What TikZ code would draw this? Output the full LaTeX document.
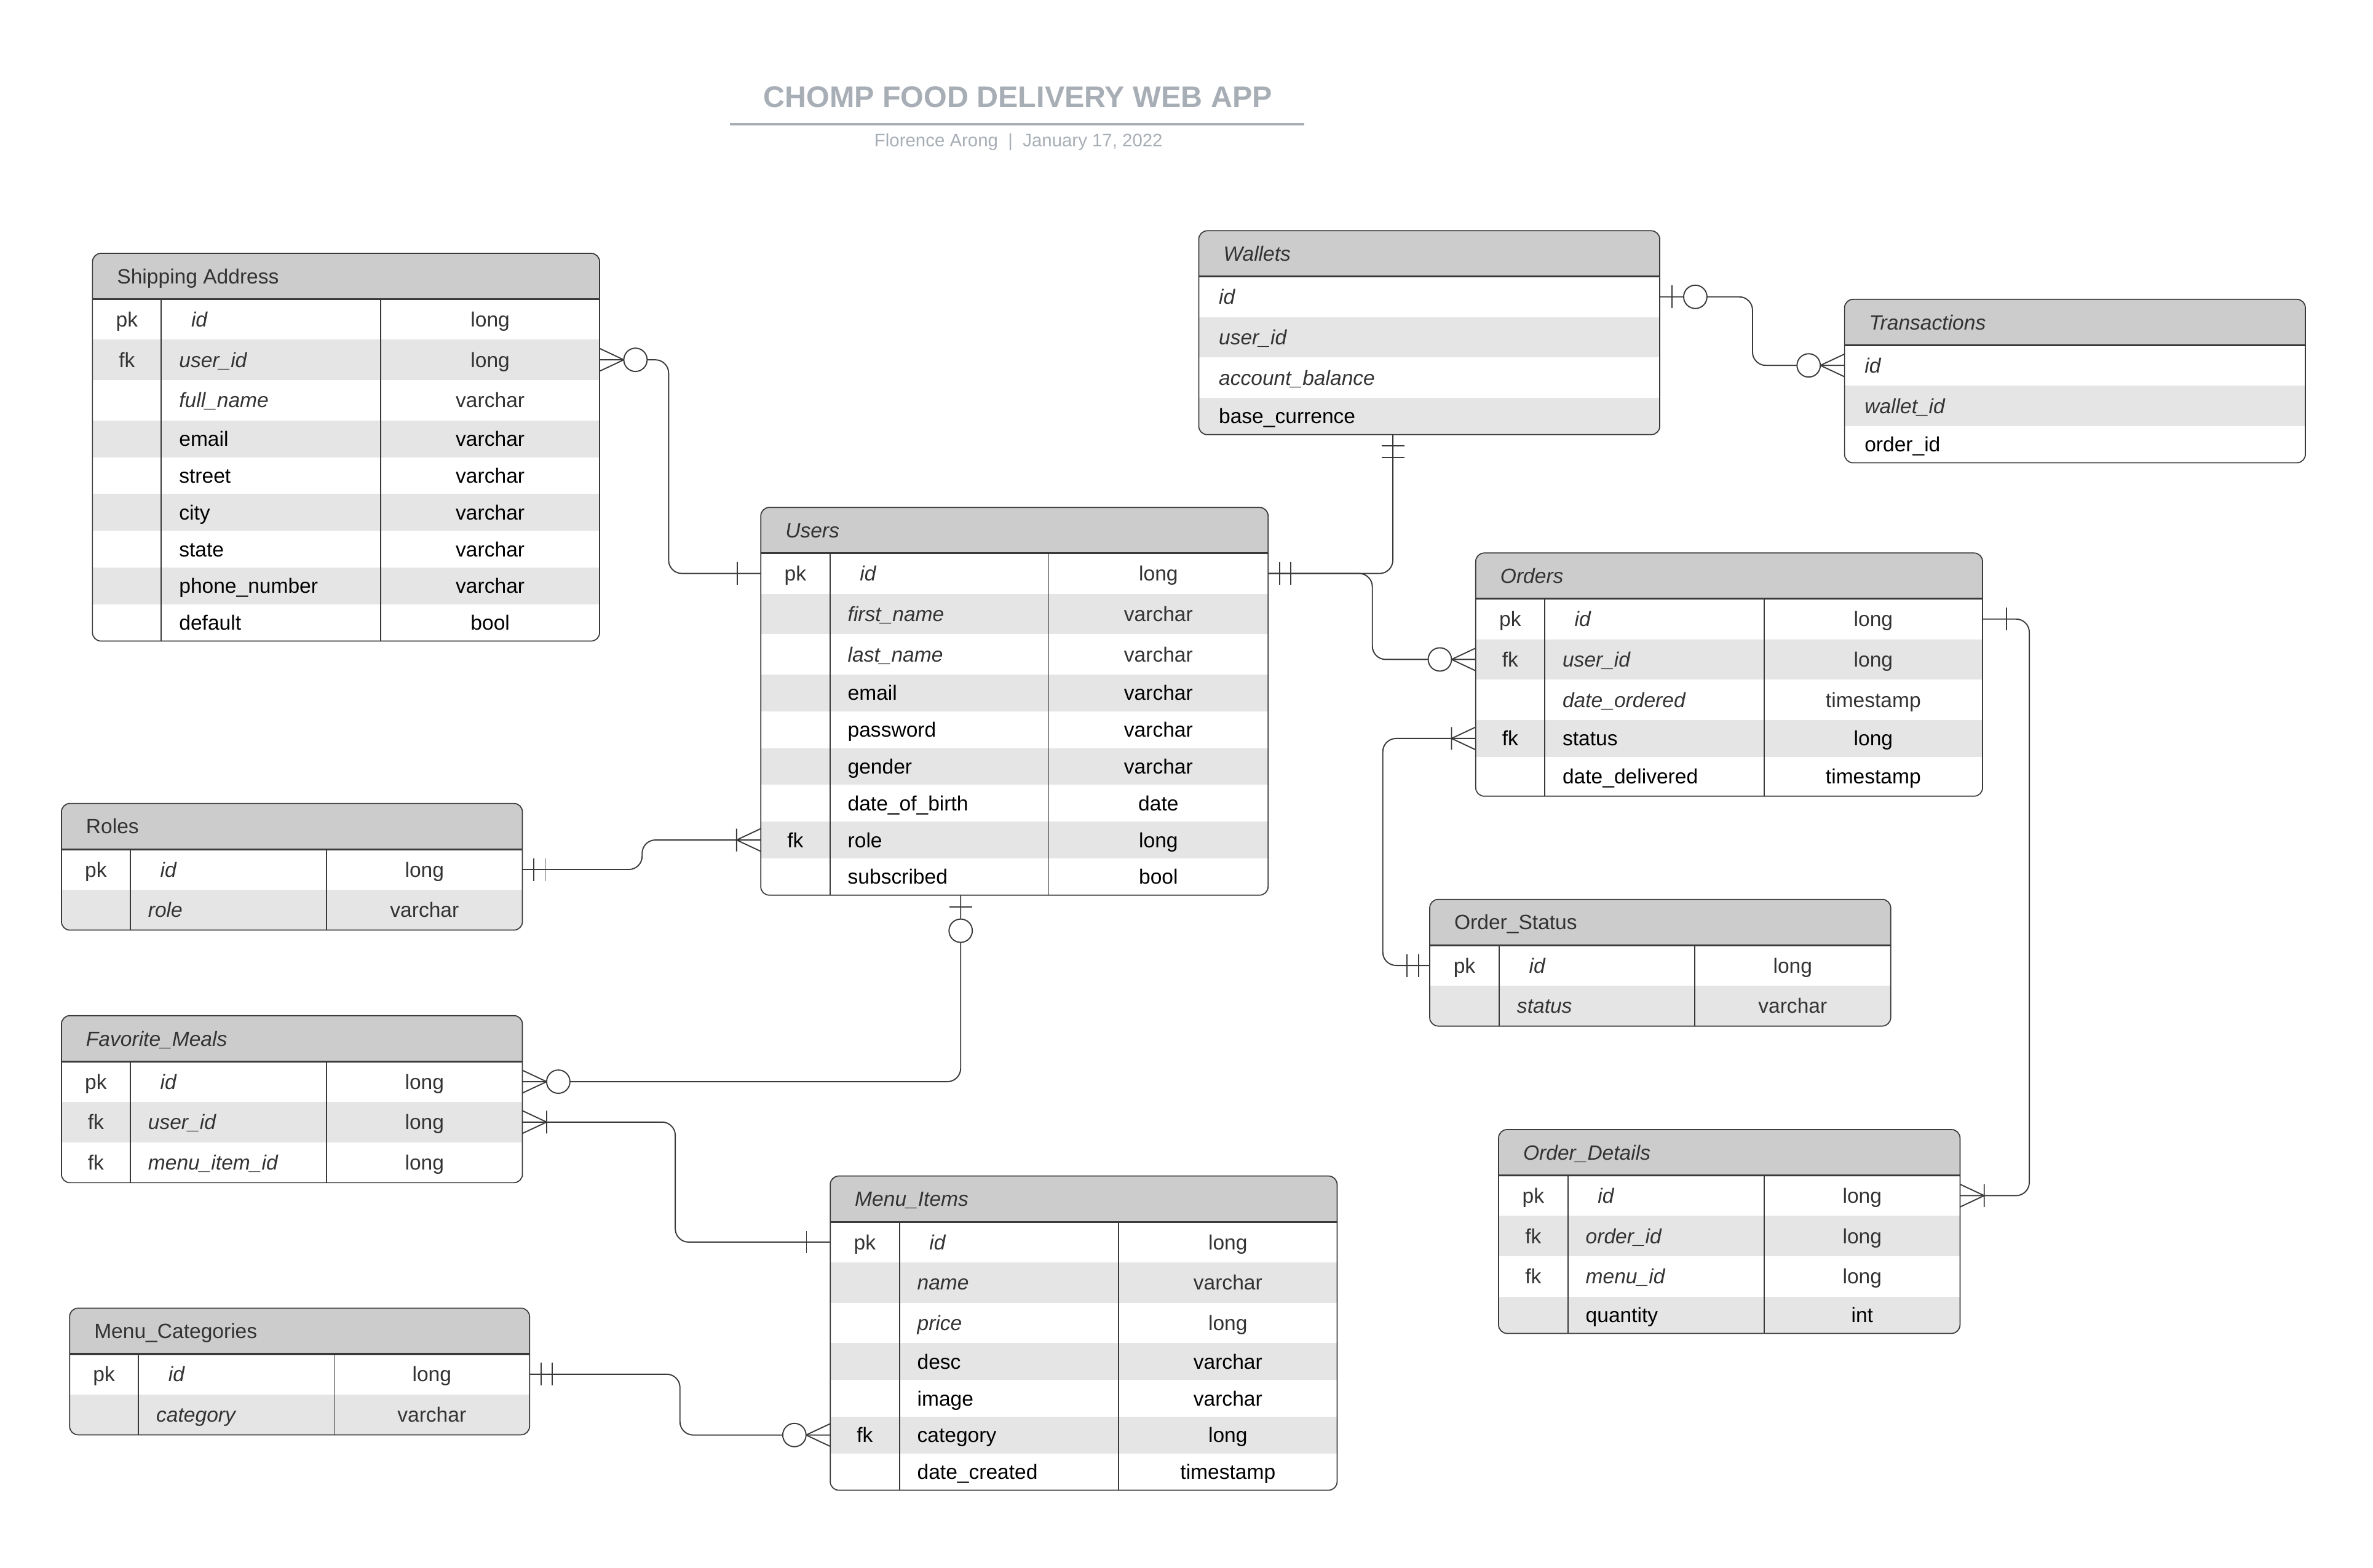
\documentclass[tikz,border=0pt]{standalone}
\usepackage{fontspec}
\setmainfont{Liberation Sans}
\usepackage{tikz}
\usetikzlibrary{calc}
\definecolor{headfill}{HTML}{CCCCCC}
\definecolor{rowgray}{HTML}{E5E5E5}
\definecolor{lineink}{HTML}{3A3A3A}
\definecolor{ink}{HTML}{333333}
\definecolor{titlegray}{HTML}{A8AEB6}
\newcommand{\tabfont}{\fontsize{9.7}{11.6}\selectfont}
\tikzset{
  tabhead/.style={fill=headfill,inner sep=0pt,outer sep=0pt,minimum height=7.575mm},
  rowbox/.style={inner sep=0pt,outer sep=0pt},
  tabtitle/.style={font=\tabfont,text=ink,inner sep=0pt},
  cell/.style={font=\tabfont,inner sep=0pt},
  tabedge/.style={draw=lineink,line width=0.5pt},
  headline/.style={draw=lineink,line width=0.9pt},
  conn/.style={draw=lineink,line width=0.55pt},
  link/.style={conn,rounded corners=2.2mm},
  pics/manyzero/.style={code={
    \draw[conn] (0,7.5) -- (16,0) -- (0,-7.5);
    \draw[conn,fill=white] (23.7,0) circle (7.7);}},
  pics/manyone/.style={code={
    \draw[conn] (0,7.5) -- (16,0) -- (0,-7.5) (16,7.5) -- (16,-7.5);}},
  pics/onlyone/.style={code={
    \draw[conn] (7.5,7.5) -- (7.5,-7.5) (15,7.5) -- (15,-7.5);}},
  pics/onebar/.style={code={\draw[conn] (15.7,7.5) -- (15.7,-7.5);}},
  pics/zeroone/.style={code={
    \draw[conn] (8,7.5) -- (8,-7.5);
    \draw[conn,fill=white] (23.5,0) circle (7.7);}}
}
% row style: i = italic field, r = plain, t = plain but taller
\newcommand{\rowsize}[1]{%
  \if#1i\def\rowh{26.7}\else\if#1t\def\rowh{26}\else\def\rowh{24.3}\fi\fi}
% #1 name, #2 left, #3 top, #4 right, #5 key column, #6 type column (0 = one column), #7 title, #8 rows
\newcommand{\erdtable}[8]{%
  \xdef\tabbot{\fpeval{#3+30.3}}%
  \foreach \keyv/\fieldv/\typev/\stylev in {#8}{%
    \rowsize{\stylev}\xdef\tabbot{\fpeval{\tabbot+\rowh}}}%
  \begin{scope}
    \clip[rounded corners=1.4mm] (#2,#3) rectangle (#4,\tabbot);
    \node[tabhead,minimum width={(#4-#2)*0.25mm},anchor=north west] (#1) at (#2,#3) {};
    \xdef\rowtop{\fpeval{#3+30.3}}%
    \foreach \keyv/\fieldv/\typev/\stylev [count=\ri] in {#8}{%
      \rowsize{\stylev}%
      \if\stylev i\def\rowcol{\color{ink}}\def\fieldstyle{\itshape}%
      \else\def\rowcol{\color{black}}\def\fieldstyle{}\fi
      \ifodd\ri\def\rowfill{white}\else\def\rowfill{rowgray}\fi
      \node[rowbox,fill=\rowfill,minimum width={(#4-#2)*0.25mm},
            minimum height={\rowh*0.25mm},anchor=north west] (#1-\ri) at (#2,\rowtop) {};
      \pgfmathsetmacro\texty{\rowtop+\rowh/2+4.9}
      \ifdim#5pt>0pt
        \node[cell,anchor=base] (#1-\ri-k) at ({(#2+#5)/2},\texty) {\rowcol\keyv};
        \node[cell,anchor=base west] (#1-\ri-f) at ({#5+11.5},\texty) {\rowcol\fieldstyle\fieldv};
        \node[cell,anchor=base] (#1-\ri-t) at ({(#6+#4)/2},\texty) {\rowcol\typev};
      \else
        \node[cell,anchor=base west] (#1-\ri-f) at ({#2+13},\texty) {\rowcol\fieldstyle\fieldv};
      \fi
      \xdef\rowtop{\fpeval{\rowtop+\rowh}}}%
    \ifdim#5pt>0pt
      \draw[tabedge] (#5,{#3+30.3}) -- (#5,\tabbot) (#6,{#3+30.3}) -- (#6,\tabbot);
    \fi
    \draw[headline] (#2,{#3+30.3}) -- (#4,{#3+30.3});
  \end{scope}
  \node[tabtitle,anchor=base west] (#1-name) at ({#2+16},{#3+20.05}) {#7};
  \draw[tabedge,rounded corners=1.4mm] (#2,#3) rectangle (#4,\tabbot);
}

\begin{document}
\begin{tikzpicture}[x=0.25mm,y=-0.25mm]
  \useasboundingbox[fill=white] (0,0) rectangle (1568,1036);
  \node[font=\fontsize{14}{17}\selectfont\bfseries,text=titlegray,anchor=base,inner sep=0pt] (title) at (672.5,70.7) {CHOMP FOOD DELIVERY WEB APP};
  \draw[titlegray,line width=1pt] (482.3,82) -- (862,82);
  \node[font=\fontsize{8.5}{10}\selectfont,text=titlegray,anchor=base,inner sep=0pt] (byline) at (673,96.8) {Florence Arong\ \ |\ \ January 17, 2022};

  \erdtable{ship}{61.1}{167.4}{396.2}{106.6}{251.6}{Shipping Address}{%
    pk/\kern2mm id/long/i,fk/user\_id/long/i,/full\_name/varchar/i,/email/varchar/r,
    /street/varchar/r,/city/varchar/r,/state/varchar/r,/phone\_number/varchar/r,/default/bool/r}
  \erdtable{usr}{502.7}{335.3}{837.9}{548.4}{693.0}{\itshape Users}{%
    pk/\kern2mm id/long/i,/first\_name/varchar/i,/last\_name/varchar/i,/email/varchar/r,
    /password/varchar/r,/gender/varchar/r,/date\_of\_birth/date/r,fk/role/long/r,/subscribed/bool/r}
  \erdtable{wal}{792.1}{152.5}{1096.7}{0}{0}{\itshape Wallets}{%
    /id//i,/user\_id//i,/account\_balance//i,/base\_currence//r}
  \erdtable{trn}{1218.8}{197.8}{1523.3}{0}{0}{\itshape Transactions}{%
    /id//i,/wallet\_id//i,/order\_id//r}
  \erdtable{ord}{975.1}{365.4}{1310}{1020.7}{1165.6}{\itshape Orders}{%
    pk/\kern2mm id/long/i,fk/user\_id/long/i,/date\_ordered/timestamp/i,fk/status/long/r,
    /date\_delivered/timestamp/t}
  \erdtable{ost}{944.7}{594.3}{1249.3}{990.6}{1119.8}{Order\_Status}{%
    pk/\kern2mm id/long/i,/status/varchar/i}
  \erdtable{od}{990.2}{746.4}{1295.1}{1036}{1165.8}{\itshape Order\_Details}{%
    pk/\kern2mm id/long/i,fk/order\_id/long/i,fk/menu\_id/long/i,/quantity/int/r}
  \erdtable{rol}{40.6}{530.9}{345.2}{86.1}{215.8}{Roles}{%
    pk/\kern2mm id/long/i,/role/varchar/i}
  \erdtable{fav}{40.6}{671.1}{345.2}{86.1}{215.8}{\itshape Favorite\_Meals}{%
    pk/\kern2mm id/long/i,fk/user\_id/long/i,fk/menu\_item\_id/long/i}
  \erdtable{itm}{548.6}{777.1}{883.5}{594.3}{739.2}{\itshape Menu\_Items}{%
    pk/\kern2mm id/long/i,/name/varchar/i,/price/long/i,/desc/varchar/r,/image/varchar/r,
    fk/category/long/r,/date\_created/timestamp/r}
  \erdtable{cat}{46}{864.4}{349.9}{91.5}{220.8}{Menu\_Categories}{%
    pk/\kern2mm id/long/i,/category/varchar/i}

  % relationships
  \coordinate (walbot) at ($(wal-4.south west)!0.421!(wal-4.south east)$);
  \coordinate (usrbot) at ($(usr-9.south west)!0.394!(usr-9.south east)$);
  \draw[link] (ship-2.east) -- ++(45.6,0) |- (usr-1.west);
  \draw[link] (usr-1.east) -| (walbot);
  \draw[link] (usr-1.east) -- ++(68.9,0) |- (ord-2.west);
  \draw[link] (wal-1.east) -- ++(61.3,0) |- (trn-1.west);
  \draw[link] (ord-1.east) -- ++(30.9,0) |- (od-1.east);
  \draw[link] (ord-4.west) -- ++(-61.4,0) |- (ost-1.west);
  \draw[link] (rol-1.east) -- ++(79.1,0) |- (usr-8.west);
  \draw[link] (usrbot) |- (fav-1.east);
  \draw[link] (fav-2.east) -- ++(101,0) |- (itm-1.west);
  \draw[link] (cat-1.east) -- ++(99.4,0) |- (itm-6.west);

  \pic at (ship-2.east) {manyzero};
  \pic[rotate=180] at (usr-1.west) {onebar};
  \pic at (usr-1.east) {onlyone};
  \pic[rotate=-90] at (walbot) {onlyone};
  \pic[rotate=180] at (ord-2.west) {manyzero};
  \pic at (wal-1.east) {zeroone};
  \pic[rotate=180] at (trn-1.west) {manyzero};
  \pic at (ord-1.east) {onebar};
  \pic at (od-1.east) {manyone};
  \pic[rotate=180] at (ord-4.west) {manyone};
  \pic[rotate=180] at (ost-1.west) {onlyone};
  \pic at (rol-1.east) {onlyone};
  \pic[rotate=180] at (usr-8.west) {manyone};
  \pic[rotate=-90] at (usrbot) {zeroone};
  \pic at (fav-1.east) {manyzero};
  \pic at (fav-2.east) {manyone};
  \pic[rotate=180] at (itm-1.west) {onebar};
  \pic at (cat-1.east) {onlyone};
  \pic[rotate=180] at (itm-6.west) {manyzero};
\end{tikzpicture}
\end{document}
